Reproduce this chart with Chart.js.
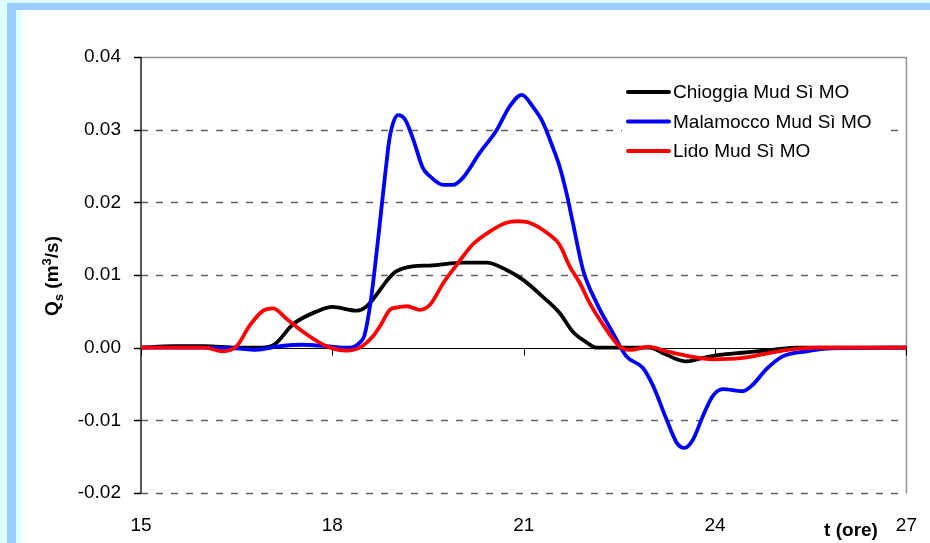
<!DOCTYPE html>
<html>
<head>
<meta charset="utf-8">
<script src="https://cdn.jsdelivr.net/npm/chart.js@4/dist/chart.umd.min.js"></script>
<style>
  body { margin: 0; overflow: hidden; font-family: "Liberation Sans", Arial, sans-serif; }
  .fr { position: absolute; }
</style>
</head>
<body>
<div class="fr" style="left:0;top:0;width:930px;height:543px;background:#e0ffff"></div>
<div class="fr" style="left:7px;top:3px;width:923px;height:540px;background:#99ccff"></div>
<div class="fr" style="left:16px;top:10px;width:914px;height:533px;background:#e0ffff"></div>
<div class="fr" style="left:22px;top:10px;width:908px;height:533px;background:#ffffff"></div>
<canvas id="myChart" width="930" height="543" style="position:absolute;left:0;top:0"></canvas>
<script>
// hours
var chioggiaT = [15, 15.5, 16, 16.5, 16.9, 17.1, 17.38, 17.76, 18.0, 18.38, 18.54, 18.9, 19.0, 19.26, 19.53, 20.05, 20.42, 20.73, 20.98, 21.3, 21.56, 21.77, 21.99, 22.14, 22.97, 23.2, 23.4, 23.55, 23.76, 24.07, 24.43, 24.9, 25.3, 27];
var chioggiaQ = [0, 0.0002, 0.0002, 0, 0, 0.0005, 0.0032, 0.005, 0.0056, 0.0051, 0.0057, 0.0097, 0.0105, 0.0112, 0.0113, 0.0117, 0.0117, 0.0107, 0.0094, 0.007, 0.0048, 0.0022, 0.0007, 0, 0, -0.0008, -0.0016, -0.0019, -0.0015, -0.001, -0.0007, -0.0003, 0, 0];

var malamoccoT = [15, 16, 16.5, 16.8, 17.18, 17.54, 17.9, 18.27, 18.43, 18.5, 18.59, 18.66, 18.75, 18.83, 18.9, 19.03, 19.14, 19.27, 19.42, 19.53, 19.74, 19.89, 20.05, 20.31, 20.58, 20.78, 20.97, 21.14, 21.3, 21.45, 21.56, 21.67, 21.77, 21.93, 22.14, 22.4, 22.61, 22.87, 23.03, 23.24, 23.4, 23.52, 23.65, 23.81, 23.96, 24.12, 24.43, 24.59, 24.8, 25.06, 25.43, 25.84, 27];
var malamoccoQ = [0, 0, -0.0001, -0.0003, 0.0002, 0.0004, 0.0002, 0, 0.0007, 0.0016, 0.0057, 0.0105, 0.0176, 0.024, 0.029, 0.032, 0.0314, 0.0286, 0.0247, 0.0236, 0.0224, 0.0224, 0.0234, 0.0268, 0.030, 0.0332, 0.0348, 0.0332, 0.031, 0.0277, 0.025, 0.0213, 0.0172, 0.0107, 0.0062, 0.002, -0.0012, -0.0028, -0.0053, -0.0099, -0.0131, -0.0138, -0.0127, -0.0094, -0.0067, -0.0057, -0.006, -0.0051, -0.003, -0.0012, -0.0005, -0.0001, 0];

var lidoT = [15, 16, 16.28, 16.5, 16.7, 16.9, 17.07, 17.29, 17.54, 17.8, 18.0, 18.22, 18.43, 18.64, 18.75, 18.9, 19.0, 19.17, 19.37, 19.53, 19.74, 19.95, 20.2, 20.47, 20.73, 20.9, 21.09, 21.41, 21.56, 21.72, 21.88, 22.03, 22.24, 22.5, 22.66, 22.97, 23.24, 23.6, 23.96, 24.43, 24.7, 25.06, 25.6, 27];
var lidoQ = [0, 0, -0.0005, 0.0002, 0.003, 0.005, 0.0054, 0.0039, 0.0022, 0.0007, -0.0001, -0.0004, 0, 0.0016, 0.003, 0.0052, 0.0055, 0.0057, 0.0052, 0.0059, 0.0089, 0.0114, 0.0142, 0.016, 0.0172, 0.0174, 0.0172, 0.0155, 0.0142, 0.0112, 0.0089, 0.0062, 0.0032, 0.0002, -0.0003, 0.0001, -0.0005, -0.0012, -0.0016, -0.0014, -0.001, -0.0004, 0, 0];

var seriesNames = ['Chioggia Mud Sì MO', 'Malamocco Mud Sì MO', 'Lido Mud Sì MO'];
var xTicks = [15, 18, 21, 24, 27];
var yTicks = [-0.02, -0.01, 0, 0.01, 0.02, 0.03, 0.04];

function pts(t, q) {
    return t.map(function (v, i) { return {x: v, y: q[i]}; });
}

var FONT = '"Liberation Sans", Arial, sans-serif';

// grid, axes, legend and titles drawn by hand to match the Excel look
var decor = {
    id: 'decor',
    beforeDatasetsDraw: function (chart) {
        var c = chart.ctx, a = chart.chartArea;
        var xs = chart.scales.x, ys = chart.scales.y;
        c.save();
        yTicks.forEach(function (v) {
            var y = Math.round(ys.getPixelForValue(v)) + 0.5;
            if (v === 0) return;
            c.beginPath();
            if (v === 0.04) {
                c.setLineDash([]);
                c.strokeStyle = '#909090';
                c.lineWidth = 1.5;
            } else {
                c.setLineDash([7, 8]);
                c.strokeStyle = '#606060';
                c.lineWidth = 1.3;
            }
            c.moveTo(a.left, y);
            c.lineTo(a.right, y);
            c.stroke();
        });
        c.setLineDash([]);
        // right border
        c.strokeStyle = '#909090';
        c.lineWidth = 1.5;
        c.beginPath();
        c.moveTo(a.right, a.top);
        c.lineTo(a.right, a.bottom);
        c.stroke();
        // zero line
        var y0 = Math.round(ys.getPixelForValue(0)) + 0.5;
        c.strokeStyle = '#000';
        c.lineWidth = 1;
        c.beginPath();
        c.moveTo(a.left, y0);
        c.lineTo(a.right, y0);
        xTicks.forEach(function (v) {
            var x = Math.round(xs.getPixelForValue(v)) + 0.5;
            c.moveTo(x, y0);
            c.lineTo(x, y0 + 7);
        });
        c.stroke();
        // y axis
        c.lineWidth = 1.3;
        c.beginPath();
        c.moveTo(a.left, a.top);
        c.lineTo(a.left, a.bottom);
        yTicks.forEach(function (v) {
            var y = Math.round(ys.getPixelForValue(v)) + 0.5;
            c.moveTo(a.left - 7, y);
            c.lineTo(a.left, y);
        });
        c.stroke();
        c.restore();
    },
    afterDatasetsDraw: function (chart) {
        var c = chart.ctx;
        c.save();
        // legend
        c.fillStyle = '#fff';
        c.fillRect(622, 76, 262, 88);
        c.font = '19px ' + FONT;
        c.textBaseline = 'middle';
        c.textAlign = 'left';
        chart.data.datasets.forEach(function (ds, i) {
            var y = 92 + i * 29.5;
            c.strokeStyle = ds.borderColor;
            c.lineWidth = 4;
            c.lineCap = 'round';
            c.beginPath();
            c.moveTo(628, y);
            c.lineTo(669, y);
            c.stroke();
            c.fillStyle = '#000';
            c.fillText(ds.label, 673, y + 1);
        });
        // x title
        c.font = 'bold 19px ' + FONT;
        c.textAlign = 'center';
        c.fillText('t (ore)', 851, 531);
        // y title with subscript and superscript
        c.translate(51, 276);
        c.rotate(-Math.PI / 2);
        var parts = [
            ['Q', 19, 0], ['s', 13, 5], [' (m', 19, 0], ['3', 13, -7], ['/s)', 19, 0]
        ];
        var w = 0;
        parts.forEach(function (p) {
            c.font = 'bold ' + p[1] + 'px ' + FONT;
            w += c.measureText(p[0]).width;
        });
        var x = -w / 2;
        c.textAlign = 'left';
        c.textBaseline = 'alphabetic';
        parts.forEach(function (p) {
            c.font = 'bold ' + p[1] + 'px ' + FONT;
            c.fillText(p[0], x, 7 + p[2]);
            x += c.measureText(p[0]).width;
        });
        c.restore();
    }
};

window.onload = function () {
    const ctx = document.getElementById('myChart');
    const myChart = new Chart(ctx, {
        type: 'line',
        data: {
            datasets: [{
                label: seriesNames[0],
                data: pts(chioggiaT, chioggiaQ),
                borderColor: '#000000',
                order: 3
            }, {
                label: seriesNames[1],
                data: pts(malamoccoT, malamoccoQ),
                borderColor: '#0000ff',
                order: 2
            }, {
                label: seriesNames[2],
                data: pts(lidoT, lidoQ),
                borderColor: '#ff0000',
                order: 1
            }]
        },
        options: {
            responsive: false,
            animation: false,
            devicePixelRatio: 1,
            layout: { padding: { top: 57, right: 15, left: 0, bottom: 0 } },
            elements: {
                line: { borderWidth: 3.8, cubicInterpolationMode: 'monotone', borderCapStyle: 'round', borderJoinStyle: 'round', fill: false },
                point: { radius: 0, hoverRadius: 0 }
            },
            scales: {
                x: {
                    type: 'linear',
                    min: 15,
                    max: 27,
                    afterFit: function (s) { s.height = 50; },
                    afterBuildTicks: function (s) { s.ticks = xTicks.map(function (v) { return {value: v}; }); },
                    grid: { display: false },
                    border: { display: false },
                    ticks: {
                        color: '#000',
                        padding: 13,
                        maxRotation: 0,
                        font: { family: FONT, size: 19 }
                    }
                },
                y: {
                    min: -0.02,
                    max: 0.04,
                    afterFit: function (s) { s.width = 141; },
                    afterBuildTicks: function (s) { s.ticks = yTicks.map(function (v) { return {value: v}; }); },
                    grid: { display: false },
                    border: { display: false },
                    ticks: {
                        color: '#000',
                        padding: 12,
                        font: { family: FONT, size: 19 },
                        callback: function (v) { return Number(v).toFixed(2); }
                    }
                }
            },
            plugins: {
                legend: { display: false },
                tooltip: { enabled: false }
            }
        },
        plugins: [decor]
    });
};
</script>
</body>
</html>
